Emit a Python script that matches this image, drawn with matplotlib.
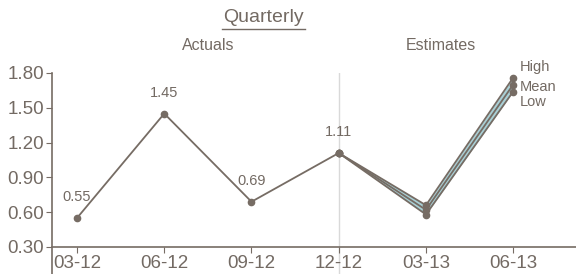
import matplotlib.pyplot as plt
from matplotlib.lines import Line2D

plt.rcParams['font.family'] = ['Liberation Sans', 'DejaVu Sans']

# data
quarters = ['03-12', '06-12', '09-12', '12-12', '03-13', '06-13']
actuals = [0.55, 1.45, 0.69, 1.11]
est_high = [1.11, 0.66, 1.76]
est_mean = [1.11, 0.62, 1.70]
est_low = [1.11, 0.58, 1.64]
yticks = [0.30, 0.60, 0.90, 1.20, 1.50, 1.80]

line_col = '#766c64'
text_col = '#736a63'
band_col = '#a9d0d6'

fig = plt.figure(figsize=(5.76, 2.74), dpi=100)
ax = fig.add_axes([52 / 576, 0, 1 - 52 / 576, (274 - 73) / 274])

xa = list(range(len(actuals)))
xe = list(range(len(actuals) - 1, len(quarters)))

# divider between actuals and estimates
ax.axvline(xa[-1], ymin=0, ymax=1, color='#d9d9d9', lw=1, zorder=0)

ax.fill_between(xe, est_low, est_high, color=band_col, lw=0, zorder=1)
for s in (est_high, est_mean, est_low):
    ax.plot(xe, s, color=line_col, lw=1.3, marker='o', ms=4.5, zorder=3)
ax.plot(xa, actuals, color=line_col, lw=1.3, marker='o', ms=4.5, zorder=3)

for x, v in zip(xa, actuals):
    ax.annotate(f'{v:.2f}', (x, v), xytext=(0, 15), textcoords='offset points',
                ha='center', va='center', fontsize=10.5, color=text_col)

# labels at the end of the estimate lines, spread apart vertically
for s, name, dy in zip((est_high, est_mean, est_low), ('High', 'Mean', 'Low'), (7.5, -2, -7.5)):
    ax.annotate(name, (xe[-1], s[-1]), xytext=(4.5, dy), textcoords='offset points',
                ha='left', va='center', fontsize=10.5, color=text_col)

ax.text(1.5, 1.80 + 0.235, 'Actuals', ha='center', va='center', fontsize=11.5,
        color=text_col, clip_on=False)
ax.text(4.17, 1.80 + 0.235, 'Estimates', ha='center', va='center', fontsize=11.5,
        color=text_col, clip_on=False)

# title with underline
fig.text(263 / 576, 1 - 18 / 274, 'Quarterly', ha='center', va='center',
         fontsize=14, color=text_col)
fig.add_artist(Line2D([222 / 576, 305 / 576], [1 - 29 / 274, 1 - 29 / 274],
                      color=text_col, lw=1))

ax.set_xlim(-0.287, 5.72)
ax.set_ylim(0.067, 1.80)
ax.set_xticks(range(len(quarters)))
ax.set_xticklabels(quarters)
ax.set_yticks(yticks)
ax.set_yticklabels([f'{t:.2f}' for t in yticks])

for side in ('top', 'right'):
    ax.spines[side].set_visible(False)
ax.spines['bottom'].set_position(('data', 0.30))
for side in ('left', 'bottom'):
    ax.spines[side].set_color(line_col)
    ax.spines[side].set_linewidth(1.2)
ax.tick_params(axis='x', direction='out', length=4, colors=line_col,
               labelcolor=text_col, labelsize=13.5, pad=2)
ax.tick_params(axis='y', direction='out', length=4, colors=line_col,
               labelcolor=text_col, labelsize=13.5, pad=1.5)
ax.patch.set_visible(False)

fig.savefig('out.png', dpi=100)
